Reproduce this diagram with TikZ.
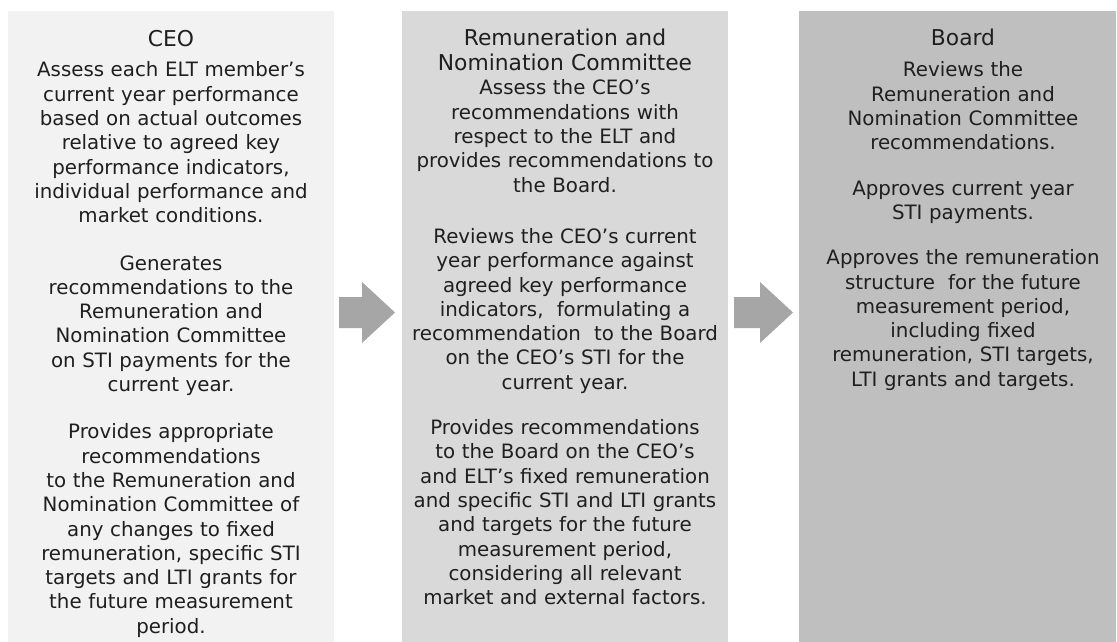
\documentclass[tikz,border=0pt]{standalone}
\usepackage{fontspec}
\setmainfont{DejaVu Sans}
\definecolor{panelA}{HTML}{F2F2F2}
\definecolor{panelB}{HTML}{D9D9D9}
\definecolor{panelC}{HTML}{BFBFBF}
\definecolor{arrowgray}{HTML}{A6A6A6}
\definecolor{txt}{HTML}{1F1F1F}
\tikzset{
  panel/.style={draw=none, inner sep=0pt, anchor=north west},
  titletext/.style={anchor=base, inner sep=0pt, text=txt, align=center, text width=320pt,
    font=\fontsize{21.8}{24.5}\selectfont},
  bodytext/.style={anchor=base, inner sep=0pt, text=txt, align=center, text width=322pt,
    font=\fontsize{19.8}{24.3}\selectfont},
  blockarrow/.style={fill=arrowgray, draw=none}
}
\newcommand{\pgap}{\\[23pt]}
\begin{document}
\begin{tikzpicture}[x=1pt,y=-1pt]
\useasboundingbox (0,0) rectangle (1117,642);
% panels
\node[panel, fill=panelA, minimum width=326pt, minimum height=631pt] (ceo) at (8,11) {};
\node[panel, fill=panelB, minimum width=326pt, minimum height=631pt] (rnc) at (402,11) {};
\node[panel, fill=panelC, minimum width=317pt, minimum height=631pt] (board) at (799,11) {};
% arrows
\fill[blockarrow] (339,297) -- (362,297) -- (362,282) -- (395,312.5) -- (362,343) -- (362,328) -- (339,328) -- cycle;
\fill[blockarrow] (734,297) -- (760,297) -- (760,282) -- (793,312.5) -- (760,343) -- (760,328) -- (734,328) -- cycle;
% CEO
\node[titletext] (ceoT) at (171,47) {CEO};
\node[bodytext] (ceoB) at (171,77) {Assess each ELT member’s\\current year performance\\based on actual outcomes\\relative to agreed key\\performance indicators,\\individual performance and\\market conditions.\pgap
Generates\\recommendations to the\\Remuneration and\\Nomination Committee\\on STI payments for the\\current year.\pgap
Provides appropriate\\recommendations\\to the Remuneration and\\Nomination Committee of\\any changes to fixed\\remuneration, specific STI\\targets and LTI grants for\\the future measurement\\period.};
% RNC
\node[titletext] (rncT) at (565,46) {Remuneration and\\Nomination Committee};
\node[bodytext] (rncB) at (565,95) {Assess the CEO’s\\recommendations with\\respect to the ELT and\\provides recommendations to\\the Board.\\[27pt]
Reviews the CEO’s current\\year performance against\\agreed key performance\\indicators,~ formulating a\\recommendation~ to the Board\\on the CEO’s STI for the\\current year.\\[21pt]
Provides recommendations\\to the Board on the CEO’s\\and ELT’s fixed remuneration\\and specific STI and LTI grants\\and targets for the future\\measurement period,\\considering all relevant\\market and external factors.};
% Board
\node[titletext] (boardT) at (963,46) {Board};
\node[bodytext] (boardB) at (963,77) {Reviews the\\Remuneration and\\Nomination Committee\\recommendations.\\[21pt]
Approves current year\\STI payments.\\[21pt]
Approves the remuneration\\structure~ for the future\\measurement period,\\including fixed\\remuneration, STI targets,\\LTI grants and targets.};
\end{tikzpicture}
\end{document}
